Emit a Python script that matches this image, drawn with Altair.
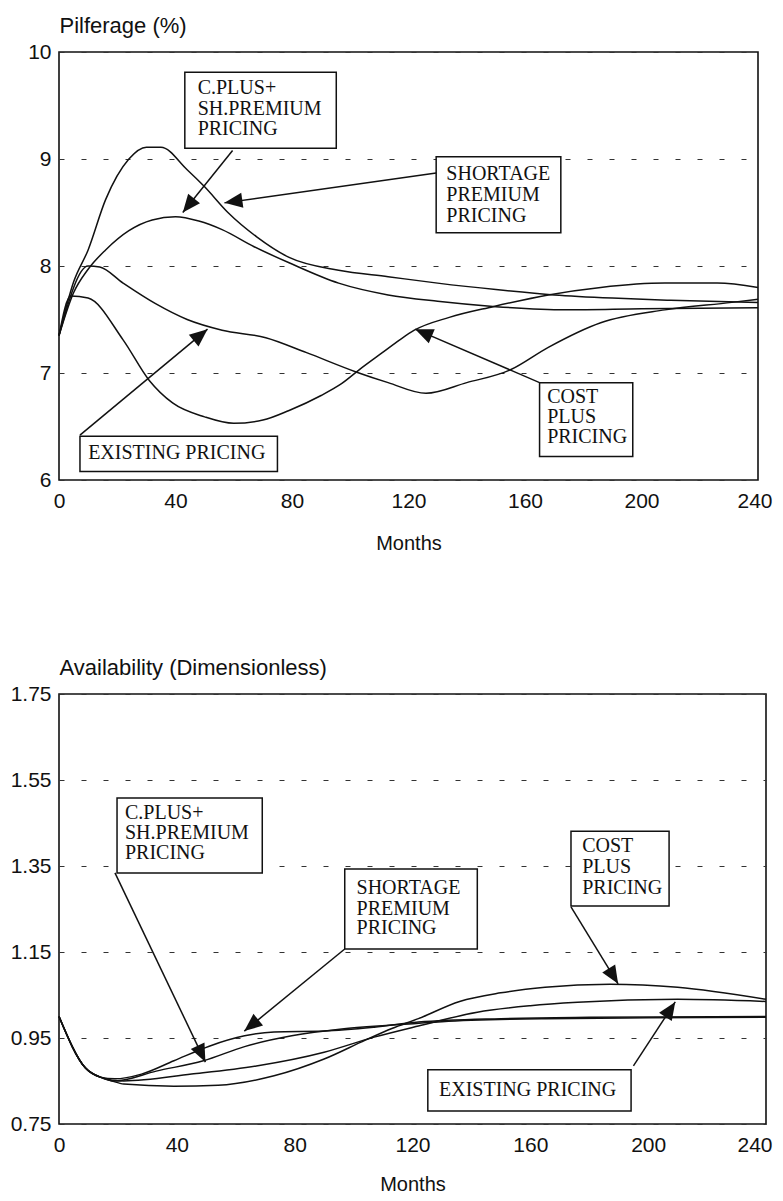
import math
import altair as alt
import pandas as pd

# ---------------- Top panel: Pilferage (%) ----------------
SP_M = [0, 5, 10, 16, 24, 30, 35, 44, 50, 58, 68, 79, 96, 113, 130, 150, 170, 190, 210, 240]
SP_V = [7.35, 7.85, 8.15, 8.62, 9.0, 9.11, 9.11, 8.9, 8.74, 8.5, 8.27, 8.08, 7.96, 7.9, 7.84,
        7.78, 7.73, 7.70, 7.68, 7.66]

CS_M = [0, 5, 10, 16, 24, 32, 40, 48, 56, 67, 79, 96, 113, 130, 150, 174, 200, 240]
CS_V = [7.35, 7.75, 7.97, 8.15, 8.33, 8.43, 8.46, 8.42, 8.34, 8.18, 8.03, 7.84, 7.73, 7.67,
        7.62, 7.59, 7.60, 7.61]

EX_M = [0, 10, 14, 22, 33, 44, 56, 71, 85, 102, 113, 126, 140, 155, 168, 186, 208, 231, 240]
EX_V = [7.35, 8.0, 7.99, 7.84, 7.65, 7.5, 7.40, 7.33, 7.19, 7.01, 6.91, 6.81, 6.91, 7.03,
        7.24, 7.47, 7.59, 7.66, 7.69]

CP_M = [0, 4, 10, 22, 31, 39, 50, 60, 70, 79, 90, 97, 104, 111, 117, 122, 134, 149, 168, 186,
        208, 226, 240]
CP_V = [7.35, 7.72, 7.70, 7.31, 6.93, 6.72, 6.59, 6.53, 6.56, 6.65, 6.79, 6.90, 7.05, 7.19,
        7.31, 7.40, 7.52, 7.62, 7.73, 7.80, 7.84, 7.84, 7.80]

# ---------------- Bottom panel: Availability ----------------
BSP_M = [0, 9, 14, 19, 28, 39, 51, 63, 73, 90, 107, 122, 150, 180, 240]
BSP_V = [1.0, 0.88, 0.859, 0.855, 0.866, 0.897, 0.931, 0.955, 0.964, 0.966, 0.975, 0.987,
         0.995, 0.998, 1.0]

BCS_M = [0, 9, 14, 19, 33, 49, 63, 79, 96, 113, 130, 165, 200, 240]
BCS_V = [1.0, 0.88, 0.859, 0.85, 0.873, 0.897, 0.93, 0.955, 0.971, 0.98, 0.988, 0.995, 0.997,
         0.998]

BEX_M = [0, 9, 14, 22, 45, 67, 90, 107, 122, 142, 160, 176, 210, 240]
BEX_V = [1.0, 0.88, 0.859, 0.85, 0.866, 0.885, 0.917, 0.952, 0.978, 1.01, 1.025, 1.033, 1.04,
         1.035]

BCP_M = [0, 9, 14, 18, 22, 39, 54, 73, 90, 104, 113, 122, 136, 150, 165, 187, 210, 240]
BCP_V = [1.0, 0.88, 0.859, 0.85, 0.843, 0.838, 0.84, 0.862, 0.901, 0.945, 0.972, 0.995, 1.035,
         1.055, 1.068, 1.075, 1.068, 1.04]

X_TICKS = [0, 40, 80, 120, 160, 200, 240]
Y_TICKS_TOP = [6, 7, 8, 9, 10]
Y_TICKS_BOT = [0.75, 0.95, 1.15, 1.35, 1.55, 1.75]

# annotation boxes (data coordinates) and label lines
TOP_BOXES = [
    dict(x=43.2, x2=95.2, y=9.81, y2=9.10, tx=47.6,
         lines=["C.PLUS+", "SH.PREMIUM", "PRICING"], ly=[9.66, 9.47, 9.28],
         a=(59.6, 9.08), tip=(42.5, 8.50)),
    dict(x=129.5, x2=172.3, y=9.02, y2=8.31, tx=133.0,
         lines=["SHORTAGE", "PREMIUM", "PRICING"], ly=[8.86, 8.66, 8.47],
         a=(129.5, 8.87), tip=(56.8, 8.59)),
    dict(x=7.2, x2=75.0, y=6.41, y2=6.08, tx=10.0,
         lines=["EXISTING PRICING"], ly=[6.25],
         a=(7.2, 6.42), tip=(51.0, 7.41)),
    dict(x=165.0, x2=197.0, y=6.91, y2=6.22, tx=167.6,
         lines=["COST", "PLUS", "PRICING"], ly=[6.78, 6.59, 6.40],
         a=(165.0, 6.91), tip=(122.3, 7.41)),
]
BOT_BOXES = [
    dict(x=19.7, x2=69.0, y=1.508, y2=1.334, tx=22.4,
         lines=["C.PLUS+", "SH.PREMIUM", "PRICING"], ly=[1.474, 1.427, 1.381],
         a=(19.0, 1.334), tip=(49.7, 0.894)),
    dict(x=97.0, x2=142.0, y=1.343, y2=1.157, tx=101.0,
         lines=["SHORTAGE", "PREMIUM", "PRICING"], ly=[1.300, 1.251, 1.205],
         a=(97.0, 1.157), tip=(62.9, 0.966)),
    dict(x=173.8, x2=207.1, y=1.431, y2=1.257, tx=177.6,
         lines=["COST", "PLUS", "PRICING"], ly=[1.396, 1.347, 1.300],
         a=(173.8, 1.255), tip=(189.8, 1.076)),
    dict(x=125.2, x2=194.2, y=0.876, y2=0.780, tx=129.0,
         lines=["EXISTING PRICING"], ly=[0.828],
         a=(195.0, 0.885), tip=(209.2, 1.034)),
]

SANS = "Liberation Sans"
SERIF = "Liberation Serif"
ARROW = "M0,0L-0.42,1L0.42,1Z"


def panel(series, ydom, yticks, ytitle, yfmt, boxes, w, h, title_pad, last_off):
    rows = []
    for name, ms, vs in series:
        for m, v in zip(ms, vs):
            rows.append(dict(series=name, month=m, value=v))
    df = pd.DataFrame(rows)
    xs = alt.Scale(domain=[0, 240], nice=False)
    ys = alt.Scale(domain=ydom, nice=False, zero=False)
    xax = alt.Axis(values=X_TICKS, title="Months", grid=False, ticks=False, domain=False,
                   labelFlush=False, labelPadding=10, titlePadding=title_pad, labelFont=SANS,
                   labelFontSize=21, titleFont=SANS, titleFontSize=20,
                   titleFontWeight="normal", labelColor="#111", titleColor="#111",
                   labelAlign={"condition": {"test": "datum.value == 240", "value": "right"},
                               "value": "center"},
                   labelOffset={"condition": {"test": "datum.value == 240", "value": last_off},
                                "value": 0})
    yax = alt.Axis(values=yticks, title=ytitle, titleAngle=0, titleAlign="left", titleX=0,
                   titleY=-20, titleBaseline="alphabetic", grid=True, gridDash=[5, 17],
                   gridColor="#333", gridWidth=1, ticks=False, domain=False, labelPadding=8,
                   format=yfmt, labelFont=SANS, labelFontSize=21, titleFont=SANS,
                   titleFontSize=22, titleFontWeight="normal", labelColor="#111",
                   titleColor="#111")
    lines = alt.Chart(df).mark_line(color="#111", strokeWidth=1.5, interpolate="monotone").encode(
        x=alt.X("month:Q", scale=xs, axis=xax),
        y=alt.Y("value:Q", scale=ys, axis=yax),
        detail="series:N",
    )
    pxm = w / 240.0
    pxv = h / (ydom[1] - ydom[0])
    rects, texts, rules, heads = [], [], [], []
    for b in boxes:
        rects.append(dict(month=b["x"], month2=b["x2"], value=b["y"], value2=b["y2"]))
        for t, yy in zip(b["lines"], b["ly"]):
            texts.append(dict(month=b["tx"], value=yy, label=t))
        rules.append(dict(month=b["a"][0], value=b["a"][1], month2=b["tip"][0], value2=b["tip"][1]))
        dx = (b["tip"][0] - b["a"][0]) * pxm
        dy = -(b["tip"][1] - b["a"][1]) * pxv
        ang = math.degrees(math.atan2(dx, -dy)) % 360
        heads.append(dict(month=b["tip"][0], value=b["tip"][1], ang=ang))
    rect = alt.Chart(pd.DataFrame(rects)).mark_rect(fill="white", stroke="#111", strokeWidth=1.5).encode(
        x=alt.X("month:Q", scale=xs), x2="month2:Q",
        y=alt.Y("value:Q", scale=ys), y2="value2:Q")
    text = alt.Chart(pd.DataFrame(texts)).mark_text(
        align="left", baseline="middle", font=SERIF, fontSize=20, color="#111").encode(
        x=alt.X("month:Q", scale=xs), y=alt.Y("value:Q", scale=ys), text="label:N")
    rule = alt.Chart(pd.DataFrame(rules)).mark_rule(color="#111", strokeWidth=1.5).encode(
        x=alt.X("month:Q", scale=xs), x2="month2:Q",
        y=alt.Y("value:Q", scale=ys), y2="value2:Q")
    head = alt.Chart(pd.DataFrame(heads)).mark_point(
        shape=ARROW, filled=True, fill="#111", opacity=1, size=1300, strokeWidth=0).encode(
        x=alt.X("month:Q", scale=xs), y=alt.Y("value:Q", scale=ys),
        angle=alt.Angle("ang:Q", scale=None))
    return alt.layer(lines, rect, text, rule, head).properties(width=w, height=h)


top = panel([("SHORTAGE PREMIUM", SP_M, SP_V), ("C.PLUS+SH.PREMIUM", CS_M, CS_V),
             ("EXISTING", EX_M, EX_V), ("COST PLUS", CP_M, CP_V)],
            [6, 10], Y_TICKS_TOP, "Pilferage (%)", "d", TOP_BOXES, 699, 428, 22, 14)
bottom = panel([("SHORTAGE PREMIUM", BSP_M, BSP_V), ("C.PLUS+SH.PREMIUM", BCS_M, BCS_V),
                ("EXISTING", BEX_M, BEX_V), ("COST PLUS", BCP_M, BCP_V)],
               [0.75, 1.75], Y_TICKS_BOT, "Availability (Dimensionless)", ".2f", BOT_BOXES,
               707, 430, 19, 6)

chart = alt.vconcat(top, bottom, spacing=101).properties(
    padding={"left": 1, "top": 5, "right": 0, "bottom": 0},
    background="white",
).configure_view(stroke="#111", strokeWidth=1.6)

chart.save("out.html", embed_options={"renderer": "svg", "actions": False})
